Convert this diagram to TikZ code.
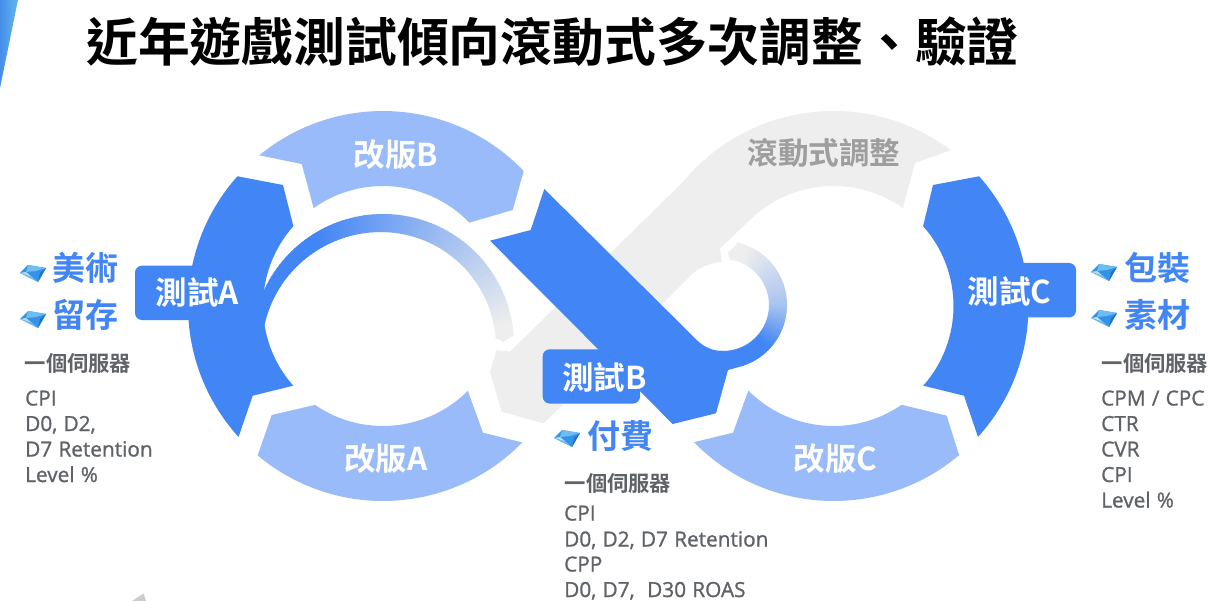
\documentclass[tikz,border=0pt]{standalone}
\usepackage{fontspec}
\setmainfont{Open Sans}[RawFeature={embolden=1.1},WordSpace=1.15]
\newfontfamily\cjk{Noto Sans CJK TC}[BoldFont=* Bold]
\usetikzlibrary{calc}
\definecolor{gblue}{HTML}{4285F4}
\definecolor{glight}{HTML}{9ABBF9}
\definecolor{ggray}{HTML}{EEEEEE}
\definecolor{gtxt}{HTML}{9E9E9E}
\definecolor{dtxt}{HTML}{5F6368}
\definecolor{gemA}{HTML}{B5DFF9}
\definecolor{gemB}{HTML}{6DBDF3}
\definecolor{gemC}{HTML}{3593E6}
\definecolor{gemD}{HTML}{1F6FD6}
\tikzset{
  x=1pt,y=-1pt,
  titletxt/.style={inner sep=0,text=black,font=\cjk\bfseries\fontsize{51.8}{60}\selectfont},
  whitetxt/.style={inner sep=0,text=white,font=\cjk\bfseries\fontsize{31.5}{36}\selectfont},
  graytxt/.style={inner sep=0,text=gtxt,font=\cjk\bfseries\fontsize{30.6}{34}\selectfont},
  bluetxt/.style={inner sep=0,text=gblue,font=\cjk\bfseries\fontsize{33}{36}\selectfont},
  headtxt/.style={inner sep=0,anchor=center,text=dtxt,font=\cjk\bfseries\fontsize{21.3}{24}\selectfont},
  metric/.style={inner sep=0,anchor=base west,text=dtxt,font=\fontsize{20.8}{24}\selectfont},
  gemicon/.pic={
    \fill[gemC] (-14,1)--(-6,-7)--(12,-4)--(4,10)--cycle;
    \fill[gemB] (-6,-7)--(12,-4)--(2,-1)--(-8,0)--cycle;
    \fill[gemA] (-14,1)--(-8,0)--(-2,5)--cycle;
    \fill[gemB] (-14,1)--(-2,5)--(4,10)--cycle;
    \fill[gemD] (12,-4)--(4,10)--(6,1)--cycle;
  }
}
\begin{document}
\begin{tikzpicture}
\useasboundingbox (0,0) rectangle (1225,601);
\fill[white] (0,0) rectangle (1225,601);
% corner accent
\shade[left color={rgb,255:red,70;green,140;blue,232},right color={rgb,255:red,98;green,185;blue,240}] (0,0)--(18,0)--(0,88)--cycle;
% bottom remnant
\fill[color={rgb,255:red,205;green,205;blue,205}] (143.5,593.5)--(132,601)--(146,601)--cycle;
% grey band
\coordinate (L) at (383,306);
\coordinate (R) at (833.5,306);
\fill[ggray] ($(R)+(307:195)$) arc[start angle=307,end angle=219.5,radius=195]
  -- (510,351.7) -- (496.7,350) -- (490,371.7) -- (501.7,411.7) -- (543.3,423.3) -- (565,403)
  -- (663,303) -- (693,273) .. controls (702,266) and (712,263) .. (721.7,261.7) -- (720,248.3)
  -- (754.8,215.4) arc[start angle=229,end angle=305.3,radius=120] -- (915,163) -- cycle;
% swoosh left
\foreach \a in {188,190,...,354}{
  \pgfmathsetmacro\p{max(0,min(100,(350-\a)*0.9))}
  \pgfmathsetmacro\ix{381-0.045*max(0,270-\a)}
  \fill[gblue!\p!ggray] ({383+131*cos(\a-0.6)},{345+131*sin(\a-0.6)}) -- ({383+131*cos(\a+2)},{345+131*sin(\a+2)})
    -- ({\ix+115*cos(\a+2)},{347+115*sin(\a+2)}) -- ({\ix+115*cos(\a-0.6)},{347+115*sin(\a-0.6)}) -- cycle;
}
\fill[ggray] ({383+131*cos(355)},{345+131*sin(355)}) -- (513.6,335) -- (503,342) -- (495.6,337) -- ({381+115*cos(355)},{347+115*sin(355)}) -- cycle;
% swoosh right
\foreach \a in {95,93,...,-76}{
  \pgfmathsetmacro\p{max(0,min(100,ifthenelse(\a>=0,40+1.4*\a,40+0.6*\a)))}
  \fill[gblue!\p!ggray] ({723+64*cos(\a+0.6)},{305+64*sin(\a+0.6)}) -- ({723+64*cos(\a-2)},{305+64*sin(\a-2)})
    -- ({723+46*cos(\a-2)},{305+46*sin(\a-2)}) -- ({723+46*cos(\a+0.6)},{305+46*sin(\a+0.6)}) -- cycle;
}
\fill[ggray] ({723+64*cos(-77)},{305+64*sin(-77)}) -- (736.7,244) -- (728,253) -- (730,260) -- ({723+46*cos(-77)},{305+46*sin(-77)}) -- cycle;
% light segments
\fill[glight] ($(L)+(230.6:195)$) arc[start angle=230.6,end angle=316.2,radius=195] -- (512.7,210)
  -- ($(L)+(316:120)$) arc[start angle=316,end angle=234.7,radius=120] -- (301.7,164) -- cycle;
\fill[glight] ($(L)+(124.5:120)$) arc[start angle=124.5,end angle=45,radius=120] -- (483,432.7)
  -- ($(L)+(44.4:195)$) arc[start angle=44.4,end angle=130,radius=195] -- (271.7,415) -- cycle;
\fill[glight] ($(R)+(135.2:120)$) arc[start angle=135.2,end angle=55.4,radius=120] -- (946.7,415.7)
  -- ($(R)+(49.9:195)$) arc[start angle=49.9,end angle=135.7,radius=195] -- (733,432.7) -- cycle;
% blue bands
\fill[gblue] ($(L)+(221.7:195)$) arc[start angle=221.7,end angle=137.8,radius=195] -- (252.7,395.7)
  -- ($(L)+(138.4:120)$) arc[start angle=138.4,end angle=221.7,radius=120] -- (283,185) -- cycle;
\fill[gblue] ($(R)+(-41.7:195)$) arc[start angle=-41.7,end angle=42.2,radius=195] -- (964,395.7)
  -- ($(R)+(41.6:120)$) arc[start angle=41.6,end angle=-41.7,radius=120] -- (933,185) -- cycle;
\fill[gblue] (544.3,189) -- (530.7,230) -- (490,240.7) -- (672.7,424) -- (716,413.3) -- (728,370) -- (735,368)
  -- (723,351) .. controls (707,351) and (698,342) .. (690,333.3) -- cycle;
% boxes
\fill[gblue,rounded corners=7pt] (135,265.7) rectangle (215,320);
\fill[gblue,rounded corners=7pt] (1000,263) rectangle (1076,317.5);
\fill[gblue,rounded corners=7pt] (542.7,349.3) rectangle (640,403.5);
% title
\node[titletxt,anchor=west] (title) at (86,42) {近年遊戲測試傾向滾動式多次調整、驗證};
% labels
\node[whitetxt] (ta) at (197.5,293) {測試A};
\node[whitetxt] (tb) at (604.5,378) {測試B};
\node[whitetxt] (tc) at (1009.5,292) {測試C};
\node[whitetxt] (ga) at (386,459) {改版A};
\node[whitetxt] (gb) at (396,155) {改版B};
\node[whitetxt] (gc) at (835.5,459) {改版C};
\node[graytxt] (roll) at (824,153) {滾動式調整};
% tags
\node[bluetxt,anchor=west] (t1) at (52.5,268) {美術};
\node[bluetxt,anchor=west] (t2) at (52.5,315) {留存};
\node[bluetxt,anchor=west] (t3) at (1124.5,268) {包裝};
\node[bluetxt,anchor=west] (t4) at (1124.5,315) {素材};
\node[bluetxt,anchor=west] (t5) at (587.5,436) {付費};
\pic at (34,272) {gemicon};
\pic at (34,318) {gemicon};
\pic at (1105,271) {gemicon};
\pic at (1105,317) {gemicon};
\pic at (568,437) {gemicon};
% server headings
\node[headtxt] (h1) at (78,363) {一個伺服器};
\node[headtxt] (h2) at (1155,363) {一個伺服器};
\node[headtxt] (h3) at (618,483) {一個伺服器};
% metrics
\node[metric] (a1) at (25,405.5) {CPI};
\node[metric] (a2) at (25,431) {D0, D2,};
\node[metric] (a3) at (25,456.5) {D7 Retention};
\node[metric] (a4) at (25,482) {Level \%};
\node[metric] (b1) at (564,520.5) {CPI};
\node[metric] (b2) at (564,546.5) {D0, D2, D7 Retention};
\node[metric] (b3) at (564,571.5) {CPP};
\node[metric] (b4) at (564,597) {D0, D7,\ \ D30 ROAS};
\node[metric] (c1) at (1101,405.5) {CPM / CPC};
\node[metric] (c2) at (1101,431) {CTR};
\node[metric] (c3) at (1101,456.5) {CVR};
\node[metric] (c4) at (1101,482) {CPI};
\node[metric] (c5) at (1101,507.5) {Level \%};
\end{tikzpicture}
\end{document}
